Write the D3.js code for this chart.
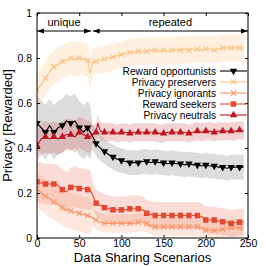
<!DOCTYPE html>
<html>
<head>
<meta charset="utf-8">
<script src="https://cdn.jsdelivr.net/npm/d3@7"></script>
<style>
  body { margin: 0; background: #fff; }
  svg { font-family: "Liberation Sans", Arial, sans-serif; }
</style>
</head>
<body>
<svg width="266" height="266"></svg>
<script>
// data sharing scenario index for every sampled point
const scenarios = [0,5,10,15,20,25,30,35,40,45,50,55,60,63,66,70,72,75,80,85,90,95,100,105,110,115,120,125,130,135,140,145,150,155,160,165,170,175,180,185,190,195,200,205,210,215,220,225,230,235,240,245];

const opportunists = [0.51,0.49,0.47,0.50,0.47,0.49,0.50,0.52,0.51,0.52,0.49,0.47,0.49,0.47,0.45,0.42,0.41,0.40,0.385,0.37,0.36,0.35,0.345,0.34,0.335,0.335,0.335,0.34,0.34,0.335,0.34,0.335,0.335,0.33,0.335,0.33,0.33,0.325,0.33,0.325,0.325,0.32,0.325,0.32,0.32,0.315,0.315,0.31,0.315,0.315,0.315,0.315];
const preservers = [0.66,0.68,0.71,0.74,0.76,0.77,0.785,0.79,0.80,0.795,0.80,0.795,0.79,0.73,0.78,0.785,0.79,0.79,0.795,0.80,0.805,0.81,0.815,0.82,0.825,0.825,0.83,0.83,0.83,0.835,0.835,0.83,0.835,0.83,0.835,0.835,0.835,0.84,0.835,0.84,0.84,0.835,0.84,0.84,0.835,0.84,0.845,0.845,0.845,0.845,0.845,0.845];
const ignorants = [0.22,0.20,0.185,0.175,0.16,0.15,0.135,0.125,0.12,0.115,0.11,0.105,0.10,0.095,0.09,0.08,0.075,0.07,0.065,0.065,0.065,0.065,0.065,0.065,0.065,0.065,0.07,0.07,0.065,0.055,0.05,0.05,0.05,0.05,0.05,0.05,0.05,0.05,0.05,0.05,0.05,0.045,0.035,0.035,0.033,0.035,0.04,0.042,0.045,0.045,0.045,0.045];
const seekers = [0.25,0.245,0.24,0.24,0.24,0.235,0.215,0.205,0.225,0.23,0.22,0.22,0.215,0.215,0.19,0.155,0.15,0.145,0.135,0.13,0.125,0.125,0.125,0.125,0.13,0.13,0.13,0.125,0.11,0.105,0.10,0.10,0.10,0.10,0.10,0.10,0.10,0.10,0.10,0.10,0.10,0.095,0.08,0.08,0.08,0.075,0.072,0.07,0.065,0.068,0.07,0.07];
const neutrals = [0.41,0.44,0.45,0.44,0.45,0.44,0.45,0.46,0.46,0.45,0.47,0.46,0.45,0.45,0.46,0.47,0.51,0.475,0.47,0.47,0.47,0.465,0.47,0.47,0.465,0.47,0.47,0.47,0.47,0.47,0.47,0.465,0.465,0.47,0.47,0.47,0.47,0.47,0.465,0.47,0.475,0.47,0.475,0.475,0.47,0.475,0.475,0.475,0.475,0.475,0.48,0.475];

// spread of the shaded band, [unique phase, repeated phase]
const spreadOpportunists = [0.12, 0.055];
const spreadPreservers = [0.075, 0.06];
const spreadIgnorants = [0.08, 0.04];
const spreadSeekers = [0.09, 0.06];
const spreadNeutrals = [0.07, 0.04];

const seriesNames = ["Reward opportunists","Privacy preservers","Privacy ignorants","Reward seekers","Privacy neutrals"];
const xTicks = [0,50,100,150,200,250];
const yTicks = [0,0.2,0.4,0.6,0.8,1];
const phaseBreak = 65;
const phaseLabels = ["unique","repeated"];

const series = [
  {name: seriesNames[0], values: opportunists, spread: spreadOpportunists, color: "#000000", band: "#8c8c8c", sym: d3.symbolTriangle, rot: 180},
  {name: seriesNames[1], values: preservers, spread: spreadPreservers, color: "#fdc27e", band: "#fdc993", sym: "x"},
  {name: seriesNames[2], values: ignorants, spread: spreadIgnorants, color: "#fb9466", band: "#fcae8c", sym: "x"},
  {name: seriesNames[3], values: seekers, spread: spreadSeekers, color: "#e4482e", band: "#ee8a78", sym: d3.symbolSquare},
  {name: seriesNames[4], values: neutrals, spread: spreadNeutrals, color: "#c0141e", band: "#d86a70", sym: d3.symbolTriangle, rot: 0}
];

const svg = d3.select('svg');
const margin = {top: 13, right: 18, bottom: 28, left: 37};
const w = 266 - margin.left - margin.right;
const h = 266 - margin.top - margin.bottom;

const g = svg.append('g')
  .attr('transform', `translate(${margin.left},${margin.top})`);

const x = d3.scaleLinear().domain([0, 250]).range([0, w]);
const y = d3.scaleLinear().domain([0, 1]).range([h, 0]);

g.append('clipPath').attr('id', 'clip')
  .append('rect').attr('width', w).attr('height', h);

const plot = g.append('g').attr('clip-path', 'url(#clip)');

// bands first
const sd = (s, i) => scenarios[i] < phaseBreak ? s.spread[0] : s.spread[1];
const bandArea = s => d3.area()
  .x((d, i) => x(scenarios[i]))
  .y0((d, i) => y(d - sd(s, i)))
  .y1((d, i) => y(d + sd(s, i)));

series.forEach(s => {
  plot.append('path')
    .datum(s.values)
    .attr('d', bandArea(s))
    .attr('fill', s.band)
    .attr('fill-opacity', 0.3);
});

const line = d3.line()
  .x((d, i) => x(scenarios[i]))
  .y(d => y(d));

const drawMarker = (sel, s, cx, cy) => {
  if (s.sym === "x") {
    const r = 2.6;
    sel.append('path')
      .attr('d', `M${cx - r},${cy - r}L${cx + r},${cy + r}M${cx - r},${cy + r}L${cx + r},${cy - r}`)
      .attr('stroke', s.color).attr('stroke-width', 1.1).attr('fill', 'none');
  } else {
    const size = s.sym === d3.symbolSquare ? 30 : 24;
    sel.append('path')
      .attr('d', d3.symbol().type(s.sym).size(size)())
      .attr('transform', `translate(${cx},${cy}) rotate(${s.rot || 0})`)
      .attr('fill', s.color);
  }
};

series.forEach(s => {
  plot.append('path')
    .datum(s.values)
    .attr('d', line)
    .attr('fill', 'none')
    .attr('stroke', s.color)
    .attr('stroke-width', 1.1);
  const mg = plot.append('g');
  s.values.forEach((v, i) => {
    if (scenarios[i] % 10 === 0) drawMarker(mg, s, x(scenarios[i]), y(v));
  });
});

// axes with inward ticks on all sides
const tickLen = 3;
const xAxisGroup = g.append('g').attr('transform', `translate(0,${h})`)
  .call(d3.axisBottom(x).tickValues(xTicks).tickSizeInner(-tickLen).tickSizeOuter(0).tickPadding(1.5));
const xTop = g.append('g')
  .call(d3.axisTop(x).tickValues(xTicks).tickSizeInner(-tickLen).tickSizeOuter(0).tickFormat(''));
const yAxisGroup = g.append('g')
  .call(d3.axisLeft(y).tickValues(yTicks).tickSizeInner(-tickLen).tickSizeOuter(0).tickPadding(5).tickFormat(d3.format('~g')));
const yRight = g.append('g').attr('transform', `translate(${w},0)`)
  .call(d3.axisRight(y).tickValues(yTicks).tickSizeInner(-tickLen).tickSizeOuter(0).tickFormat(''));

[xAxisGroup, xTop, yAxisGroup, yRight].forEach(a => {
  a.select('.domain').remove();
  a.selectAll('text').attr('font-size', 10.5).attr('fill', '#000').attr('font-family', '"Liberation Sans", Arial, sans-serif');
  a.selectAll('line').attr('stroke', '#000');
});

g.append('rect')
  .attr('width', w).attr('height', h)
  .attr('fill', 'none').attr('stroke', '#000').attr('stroke-width', 1);

// phase arrows
const defs = svg.append('defs');
defs.append('marker').attr('id', 'ah')
  .attr('viewBox', '0 0 10 10').attr('refX', 10).attr('refY', 5)
  .attr('markerWidth', 7).attr('markerHeight', 7).attr('orient', 'auto-start-reverse')
  .append('path').attr('d', 'M0,1.5L10,5L0,8.5Z').attr('fill', '#000');

const arrowY = 18;
const phases = [[0, phaseBreak - 1], [phaseBreak + 1, 250]];
phases.forEach((p, i) => {
  g.append('line')
    .attr('x1', x(p[0])).attr('x2', x(p[1]))
    .attr('y1', arrowY).attr('y2', arrowY)
    .attr('stroke', '#000').attr('stroke-width', 1)
    .attr('marker-start', 'url(#ah)').attr('marker-end', 'url(#ah)');
  g.append('text')
    .attr('x', (x(p[0]) + x(p[1])) / 2).attr('y', arrowY - 5)
    .attr('text-anchor', 'middle').attr('font-size', 11)
    .text(phaseLabels[i]);
});

// legend
const legend = g.append('g').attr('transform', `translate(${w - 28},58)`);
series.forEach((s, i) => {
  const ly = i * 11;
  legend.append('text')
    .attr('x', -4).attr('y', ly).attr('dy', '0.35em')
    .attr('text-anchor', 'end').attr('font-size', 10.2)
    .text(s.name);
  legend.append('line')
    .attr('x1', 0).attr('x2', 27).attr('y1', ly).attr('y2', ly)
    .attr('stroke', s.color).attr('stroke-width', 1.1);
  drawMarker(legend, s, 13.5, ly);
});

// axis titles
svg.append('text')
  .attr('x', margin.left + w / 2).attr('y', 261.5)
  .attr('text-anchor', 'middle').attr('font-size', 13)
  .text('Data Sharing Scenarios');
svg.append('text')
  .attr('transform', `translate(12,${margin.top + h / 2}) rotate(-90)`)
  .attr('text-anchor', 'middle').attr('font-size', 13)
  .text('Privacy [Rewarded]');
</script>
</body>
</html>
